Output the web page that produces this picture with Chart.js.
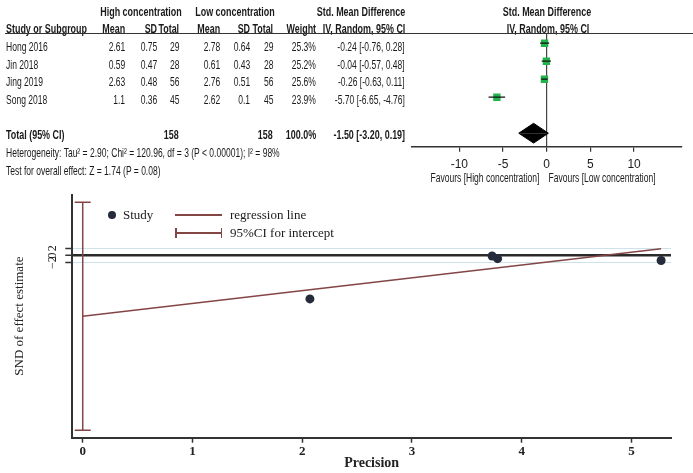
<!DOCTYPE html>
<html><head><meta charset="utf-8">
<script src="https://cdn.jsdelivr.net/npm/chart.js@4.4.1/dist/chart.umd.min.js"></script>
<style>
html,body{margin:0;padding:0;background:#fff;}
#wrap{position:relative;width:693px;height:473px;overflow:hidden;background:#fff;}
canvas{position:absolute;left:0;}
.t{position:absolute;white-space:nowrap;font-family:'Liberation Sans',Arial,sans-serif;font-size:13px;line-height:14px;color:#1a1a1a;}
.s{position:absolute;white-space:nowrap;font-family:'Liberation Serif','Times New Roman',serif;font-size:13px;line-height:16px;color:#1a1a1a;}
</style></head><body>
<div id="wrap">
<canvas id="forest" width="693" height="185" style="top:0;width:693px;height:185px"></canvas>
<canvas id="egger" width="693" height="288" style="top:185px;width:693px;height:288px"></canvas>
</div>
<script>
// ---------- Forest plot data ----------
const studies = ['Hong 2016','Jin 2018','Jing 2019','Song 2018'];
const highMean = ['2.61','0.59','2.63','1.1'];
const highSD = ['0.75','0.47','0.48','0.36'];
const highN = [29,28,56,45];
const lowMean = ['2.78','0.61','2.76','2.62'];
const lowSD = ['0.64','0.43','0.51','0.1'];
const lowN = [29,28,56,45];
const weights = ['25.3%','25.2%','25.6%','23.9%'];
const smd = [-0.24,-0.04,-0.26,-5.70];
const ciLo = [-0.76,-0.57,-0.63,-6.65];
const ciHi = [0.28,0.48,0.11,-4.76];
const rowIndex = [0,1,2,3];
const totalRow = 5;
const totalHighN = 158, totalLowN = 158, totalWeight = '100.0%';
const totalSMD = -1.50, totalLo = -3.20, totalHi = 0.19;
const forestTicks = [-10,-5,0,5,10];
const hetText = 'Heterogeneity: Tau\u00b2 = 2.90; Chi\u00b2 = 120.96, df = 3 (P < 0.00001); I\u00b2 = 98%';
const testText = 'Test for overall effect: Z = 1.74 (P = 0.08)';

// ---------- Egger plot data ----------
const precision = [3.78, 3.73, 5.27, 2.07];
const snd = [-0.9, -0.15, -1.4, -12.1];
const regPrecision = [0, 5.27];
const regSND = [-16.9, 1.85];
const interceptCI = [-48.6, 14.8];
const eggerXTicks = [0,1,2,3,4,5];
const eggerYTicks = [-2,0,2];

// ---------- text helpers ----------
const wrap = document.getElementById('wrap');
const W = 693;
const mctx = document.createElement('canvas').getContext('2d');
function natW(s, bold){ mctx.font = (bold?'bold ':'')+'13px "Liberation Sans"'; return mctx.measureText(s).width; }
const kN = 274 / natW(hetText,false);
const kB = 81 / natW('Study or Subgroup', true);
function txt(s, x, y, align, bold){
  const d = document.createElement('div'); d.className='t'; d.textContent=s;
  if(bold) d.style.fontWeight='bold';
  const k = bold?kB:kN;
  d.style.top = (y-7)+'px';
  if(align==='left'){ d.style.left=x+'px'; d.style.transformOrigin='0 50%'; d.style.transform='scaleX('+k+')'; }
  else if(align==='right'){ d.style.right=(W-x)+'px'; d.style.transformOrigin='100% 50%'; d.style.transform='scaleX('+k+')'; }
  else { d.style.left=x+'px'; d.style.transformOrigin='0 50%'; d.style.transform='scaleX('+k+') translateX(-50%)'; }
  wrap.appendChild(d);
}
function stxt(s, x, y){
  const d = document.createElement('div'); d.className='s'; d.textContent=s;
  d.style.left=x+'px'; d.style.top=(y-8)+'px'; wrap.appendChild(d);
}
function box(x,y,w,h,bg,extra){
  const d=document.createElement('div'); d.style.position='absolute';
  d.style.left=x+'px'; d.style.top=y+'px'; d.style.width=w+'px'; d.style.height=h+'px'; d.style.background=bg;
  if(extra) Object.assign(d.style, extra);
  wrap.appendChild(d);
}
const f2 = v => v.toFixed(2);

// ---------- table ----------
txt('High concentration', 141, 12, 'center', true);
txt('Low concentration', 235, 12, 'center', true);
txt('Std. Mean Difference', 361, 12, 'center', true);
txt('Std. Mean Difference', 547, 12, 'center', true);
txt('Study or Subgroup', 6, 29, 'left', true);
txt('Mean', 125, 29, 'right', true);
txt('SD', 157, 29, 'right', true);
txt('Total', 179, 29, 'right', true);
txt('Mean', 220, 29, 'right', true);
txt('SD', 250, 29, 'right', true);
txt('Total', 273, 29, 'right', true);
txt('Weight', 316, 29, 'right', true);
txt('IV, Random, 95% CI', 364, 29, 'center', true);
txt('IV, Random, 95% CI', 548, 29, 'center', true);
box(5, 33, 688, 1, '#333');

const rowY = [47, 64.5, 82.3, 100];
studies.forEach((s,i)=>{
  const y = rowY[i];
  txt(s, 6, y, 'left', false);
  txt(highMean[i], 125, y, 'right', false);
  txt(highSD[i], 157, y, 'right', false);
  txt(String(highN[i]), 179, y, 'right', false);
  txt(lowMean[i], 220, y, 'right', false);
  txt(lowSD[i], 250, y, 'right', false);
  txt(String(lowN[i]), 273, y, 'right', false);
  txt(weights[i], 316, y, 'right', false);
  txt(f2(smd[i])+' ['+f2(ciLo[i])+', '+f2(ciHi[i])+']', 405, y, 'right', false);
});
txt('Total (95% CI)', 6, 135, 'left', true);
txt(String(totalHighN), 179, 135, 'right', true);
txt(String(totalLowN), 273, 135, 'right', true);
txt(totalWeight, 316, 135, 'right', true);
txt(f2(totalSMD)+' ['+f2(totalLo)+', '+f2(totalHi)+']', 405, 135, 'right', true);
txt(hetText, 6, 153, 'left', false);
txt(testText, 6, 171, 'left', false);
txt('Favours [High concentration]', 485, 178, 'center', false);
txt('Favours [Low concentration]', 602, 178, 'center', false);

// ---------- forest chart ----------
const dh = 0.55;
new Chart(document.getElementById('forest'), {
  type:'scatter',
  data:{datasets:[
    ...rowIndex.map(i=>({data:[{x:ciLo[i],y:i},{x:ciHi[i],y:i}], showLine:true, borderColor:'#111', borderWidth:1.3, pointRadius:0})),
    {data: smd.map((v,i)=>({x:v,y:rowIndex[i]})), pointStyle:'rect', pointRadius:5.2, backgroundColor:'#22b34c', borderColor:'#22b34c', borderWidth:0},
    {data:[{x:totalLo,y:totalRow},{x:totalSMD,y:totalRow-dh},{x:totalHi,y:totalRow}], showLine:true, fill:{value:totalRow}, backgroundColor:'#000', borderColor:'#000', borderWidth:1, pointRadius:0},
    {data:[{x:totalLo,y:totalRow},{x:totalSMD,y:totalRow+dh},{x:totalHi,y:totalRow}], showLine:true, fill:{value:totalRow}, backgroundColor:'#000', borderColor:'#000', borderWidth:1, pointRadius:0}
  ]},
  options:{
    responsive:false, animation:false, events:[],
    layout:{padding:{left:411.7, right:11.3, top:33.3, bottom:13.3}},
    plugins:{legend:{display:false}, tooltip:{enabled:false}},
    scales:{
      x:{type:'linear', min:-15.45, max:15.45,
        afterBuildTicks:s=>{s.ticks=forestTicks.map(v=>({value:v}));},
        afterFit:s=>{s.height=25;},
        grid:{color:c=>(c.tick && c.tick.value===0)?'#444':'rgba(0,0,0,0)', lineWidth:1.2, drawTicks:true, tickLength:5, tickColor:'#333', tickWidth:1.2},
        border:{display:true, color:'#333', width:1.5},
        ticks:{font:{family:"'Liberation Sans Narrow','Liberation Sans',Arial",size:12}, color:'#1a1a1a', padding:6, maxRotation:0}
      },
      y:{type:'linear', display:false, min:-0.55, max:5.75, reverse:true}
    }
  }
});

// ---------- Egger chart ----------
const serif = "'Liberation Serif','Times New Roman',serif";
const brown = '#844545';
const dark = '#262b3b';
new Chart(document.getElementById('egger'), {
  type:'scatter',
  data:{datasets:[
    {data: interceptCI.map(v=>({x:regPrecision[0],y:v})), showLine:true, borderColor:brown, borderWidth:1.5, pointStyle:'line', pointRadius:8, pointBorderColor:brown, pointBorderWidth:1.5},
    {data: regPrecision.map((v,i)=>({x:v,y:regSND[i]})), showLine:true, borderColor:brown, borderWidth:1.5, pointRadius:0},
    {data: precision.map((v,i)=>({x:v,y:snd[i]})), pointRadius:4.5, backgroundColor:dark, borderColor:dark, borderWidth:0}
  ]},
  options:{
    responsive:false, animation:false, events:[],
    layout:{padding:{left:12, right:22, top:9, bottom:0}},
    plugins:{legend:{display:false}, tooltip:{enabled:false}},
    scales:{
      x:{type:'linear', min:-0.095, max:5.36,
        afterBuildTicks:s=>{s.ticks=eggerXTicks.map(v=>({value:v}));},
        afterFit:s=>{s.height=35.3; s.paddingLeft=0; s.paddingRight=0;},
        grid:{drawOnChartArea:false, drawTicks:true, tickLength:5, tickColor:'#333', tickWidth:1.5},
        border:{display:true, color:'#333', width:2},
        ticks:{font:{family:serif,size:13,weight:'bold'}, color:'#222', padding:1, maxRotation:0},
        title:{display:true, text:'Precision', font:{family:serif,size:14,weight:'bold'}, color:'#222', padding:{top:0,bottom:1}}
      },
      y:{type:'linear', min:-50.7, max:16.95,
        afterBuildTicks:s=>{s.ticks=eggerYTicks.map(v=>({value:v}));},
        afterFit:s=>{s.width=60.3; s.paddingTop=0; s.paddingBottom=0;},
        grid:{color:c=>(c.tick && c.tick.value===0)?'#2a2a2a':'#cfe2ec', lineWidth:c=>(c.tick && c.tick.value===0)?2.5:1, drawTicks:true, tickLength:7, tickColor:'#333', tickWidth:1.5},
        border:{display:true, color:'#333', width:2},
        ticks:{minRotation:90, maxRotation:90, crossAlign:'center', padding:6, font:{family:serif,size:12}, color:'#222', callback:v=>String(v).replace('-','\u2212')},
        title:{display:true, text:'SND of effect estimate', font:{family:serif,size:13}, color:'#222', padding:{top:0,bottom:0}}
      }
    }
  }
});

// ---------- Egger legend ----------
box(107.5, 211, 8, 8, dark, {borderRadius:'50%'});
stxt('Study', 123, 215);
box(175, 214.3, 47, 1.5, brown);
stxt('regression line', 230, 215);
box(175, 232.3, 47, 1.5, brown);
box(175, 228, 1.5, 10, brown);
box(220.5, 228, 1.5, 10, brown);
stxt('95%CI for intercept', 230, 233);
</script>
</body></html>
